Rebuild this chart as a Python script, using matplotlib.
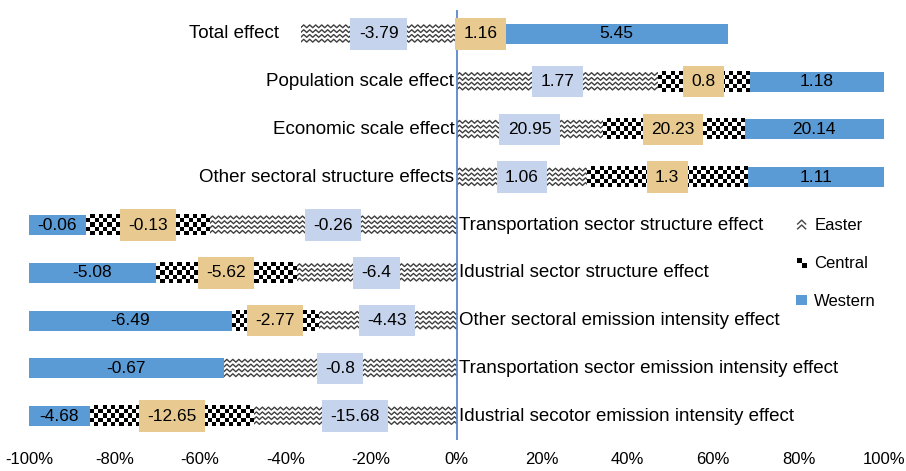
import matplotlib
matplotlib.use("Agg")
import matplotlib.pyplot as plt
import numpy as np
from matplotlib import font_manager
from matplotlib.colors import ListedColormap
from matplotlib.legend_handler import HandlerBase
from matplotlib.lines import Line2D
from matplotlib.patches import Rectangle

categories = [
    "Total effect",
    "Population scale effect",
    "Economic scale effect",
    "Other sectoral structure effects",
    "Transportation sector structure effect",
    "Idustrial sector structure effect",
    "Other sectoral emission intensity effect",
    "Transportation sector emission intensity effect",
    "Idustrial secotor emission intensity effect",
]
easter = [-3.79, 1.77, 20.95, 1.06, -0.26, -6.4, -4.43, -0.8, -15.68]
central = [1.16, 0.8, 20.23, 1.3, -0.13, -5.62, -2.77, 0, -12.65]
western = [5.45, 1.18, 20.14, 1.11, -0.06, -5.08, -6.49, -0.67, -4.68]
series_names = ["Easter", "Central", "Western"]
x_ticks = [-100, -80, -60, -40, -20, 0, 20, 40, 60, 80, 100]

BLUE = "#5b9bd5"
EAST_BOX = "#c5d3ed"
CENT_BOX = "#e8ca90"


def pick_font(names):
    for n in names:
        try:
            font_manager.findfont(font_manager.FontProperties(family=n),
                                  fallback_to_default=False)
            return n
        except ValueError:
            continue
    return "DejaVu Sans"


narrow = pick_font(["Liberation Sans Narrow", "Liberation Sans"])
cat_size = 16 if narrow == "Liberation Sans Narrow" else 13.5
regular = pick_font(["Liberation Sans", "DejaVu Sans"])


def segments():
    # 100% stacked: each row is split by the sum of absolute values,
    # Easter closest to zero, then Central, then Western
    out = []
    for i in range(len(categories)):
        vals = [easter[i], central[i], western[i]]
        total = sum(abs(v) for v in vals)
        pos, neg = 0.0, 0.0
        for k, v in enumerate(vals):
            if v == 0:
                continue
            w = abs(v) / total * 100
            if v > 0:
                out.append((k, i, pos, w, v))
                pos += w
            else:
                out.append((k, i, -neg - w, w, v))
                neg += w
    return out


class EasterHandler(HandlerBase):
    def create_artists(self, legend, orig_handle, xdescent, ydescent,
                       width, height, fontsize, trans):
        arts = []
        cx = -xdescent + width * 0.5
        for k in range(2):
            yb = -ydescent + height * (0.15 + 0.38 * k)
            ln = Line2D([cx - width * 0.3, cx, cx + width * 0.3],
                        [yb, yb + height * 0.3, yb], color="#444444", lw=1.0,
                        transform=trans)
            arts.append(ln)
        return arts


class CentralHandler(HandlerBase):
    def create_artists(self, legend, orig_handle, xdescent, ydescent,
                       width, height, fontsize, trans):
        s = height * 0.38
        cx = -xdescent + width * 0.5
        cy = -ydescent + height * 0.45
        a = Rectangle((cx - s, cy), s, s, fc="black", ec="none", transform=trans)
        b = Rectangle((cx, cy - s), s, s, fc="black", ec="none", transform=trans)
        return [a, b]


class WesternHandler(HandlerBase):
    def create_artists(self, legend, orig_handle, xdescent, ydescent,
                       width, height, fontsize, trans):
        s = height * 0.85
        cx = -xdescent + width * 0.5
        r = Rectangle((cx - s / 2, -ydescent + height * 0.05), s, s,
                      fc=BLUE, ec="none", transform=trans)
        return [r]


def add_zigzag(ax, patch, x0, x1, yb, yt):
    inv = ax.transData.inverted()
    (px0, py0) = ax.transData.transform((x0, yb))
    (px1, py1) = ax.transData.transform((x1, yt))
    period = 6.0
    amp = 2.8
    gap = 4.8
    yr = py0 + 1.8
    while yr < py1 + gap:
        xs = np.arange(px0 - period, px1 + period, period / 2)
        ys = yr + np.where(np.arange(len(xs)) % 2 == 0, 0, amp)
        pts = inv.transform(np.column_stack([xs, ys]))
        ln, = ax.plot(pts[:, 0], pts[:, 1], color="#3f3f3f", lw=1.0, zorder=2)
        ln.set_clip_path(patch)
        yr += gap


def add_checker(ax, x0, x1, yb, yt):
    (px0, py0) = ax.transData.transform((x0, yb))
    (px1, py1) = ax.transData.transform((x1, yt))
    cell = 4.2
    nx = max(1, int(round((px1 - px0) / cell)))
    ny = max(1, int(round((py1 - py0) / cell)))
    grid = np.add.outer(np.arange(ny), np.arange(nx)) % 2
    ax.imshow(grid, cmap=ListedColormap(["white", "black"]),
              extent=(x0, x1, yb, yt), aspect="auto",
              interpolation="nearest", zorder=2)


def main():
    fig = plt.figure(figsize=(9.06, 4.71), dpi=100)
    ax = fig.add_axes([29 / 906, 1 - 440 / 471, 855 / 906, 430 / 471])
    ax.set_xlim(-100, 100)
    ax.set_ylim(-0.5, len(categories) - 0.5)

    n = len(categories)
    h = 0.42
    segs = segments()
    colors = ["white", "white", BLUE]

    for k, i, left, width, val in segs:
        y = n - 1 - i
        bars = ax.barh(y, width, left=left, height=h, color=colors[k],
                       lw=0, zorder=1)
        patch = bars.patches[0]
        if k == 0:
            add_zigzag(ax, patch, left, left + width, y - h / 2, y + h / 2)
        elif k == 1:
            add_checker(ax, left, left + width, y - h / 2, y + h / 2)

        box = None
        if k == 0:
            box = dict(boxstyle="square,pad=0.48", fc=EAST_BOX, ec="none")
        elif k == 1:
            box = dict(boxstyle="square,pad=0.48", fc=CENT_BOX, ec="none")
        ax.text(left + width / 2, y, f"{val:g}", ha="center", va="center",
                fontsize=12.5, family=regular, color="black", bbox=box,
                zorder=4)

    ax.set_xlim(-100, 100)
    ax.set_ylim(-0.5, n - 0.5)

    # category labels sit beside the zero line (or beside the negative part)
    for i, cat in enumerate(categories):
        y = n - 1 - i
        negw = sum(s[3] for s in segs if s[1] == i and s[4] < 0)
        posw = sum(s[3] for s in segs if s[1] == i and s[4] > 0)
        if negw == 0:
            ax.text(-0.5, y, cat, ha="right", va="center", fontsize=cat_size,
                    family=narrow, zorder=4)
        elif posw == 0:
            ax.text(0.6, y, cat, ha="left", va="center", fontsize=cat_size,
                    family=narrow, zorder=4)
        else:
            ax.text(-negw - 5, y, cat, ha="right", va="center",
                    fontsize=cat_size, family=narrow, zorder=4)

    ax.axvline(0, color="#5a87cc", lw=1.3, zorder=3)

    ax.set_xticks(x_ticks)
    ax.set_xticklabels([f"{t}%" for t in x_ticks], fontsize=12, family=regular)
    ax.tick_params(axis="x", length=0, pad=9)
    ax.set_yticks([])
    for sp in ax.spines.values():
        sp.set_visible(False)

    handles = [Rectangle((0, 0), 1, 1) for _ in series_names]
    hmap = {handles[0]: EasterHandler(), handles[1]: CentralHandler(),
            handles[2]: WesternHandler()}
    fig.legend(handles, series_names, handler_map=hmap, loc="upper left",
               bbox_to_anchor=(795 / 906, 1 - 218 / 471), frameon=False,
               prop={"family": regular, "size": 12}, handlelength=0.8,
               handleheight=0.8, handletextpad=0.35, labelspacing=1.35,
               borderpad=0, borderaxespad=0)

    fig.savefig("out.png", dpi=100)


main()
